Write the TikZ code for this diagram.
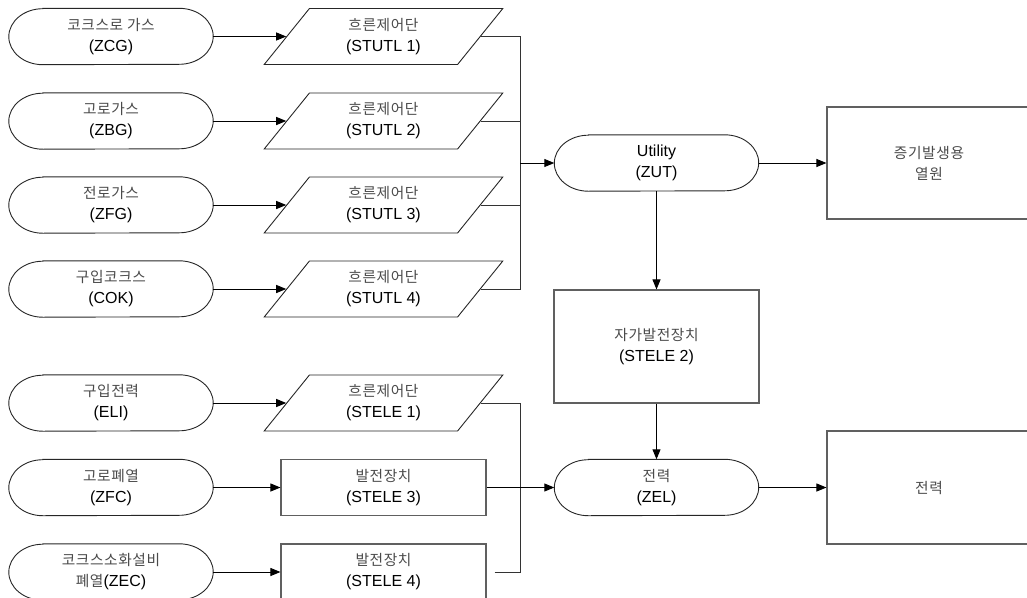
\documentclass[tikz,border=0pt]{standalone}
\usepackage{fontspec}
\setmainfont{Liberation Sans}
\newfontfamily\krfont{Noto Sans CJK KR}[Scale=0.92,LetterSpace=4]
\usetikzlibrary{arrows.meta,shapes.geometric,calc}
\definecolor{krgray}{HTML}{4A4A4A}
\definecolor{edgegray}{HTML}{606060}
\newcommand\K[1]{{\krfont\color{krgray}#1}}
\newcommand\termdraw[1]{\draw[shapeline] ($(#1.north west)+(34,0)$) -- ($(#1.north east)+(-34,0)$) arc[start angle=90,end angle=-90,x radius=34pt,y radius=28pt] -- ($(#1.south west)+(34,0)$) arc[start angle=270,end angle=90,x radius=34pt,y radius=28pt] -- cycle;}
\begin{document}
\begin{tikzpicture}[x=1pt,y=-1pt,font=\fontsize{16}{21}\selectfont,
  shapeline/.style={line width=0.9pt,draw=black!85},
  term/.style={rectangle,minimum width=204pt,minimum height=56pt,inner sep=0pt,align=center},
  para/.style={trapezium,trapezium left angle=58,trapezium right angle=122,trapezium stretches=true,
    minimum width=239pt,minimum height=56pt,inner sep=0pt,align=center,shapeline},
  boxnode/.style={rectangle,draw=edgegray,line width=1.1pt,minimum width=205pt,inner sep=0pt,align=center},
  arr/.style={-{Triangle[length=10pt,width=8pt]},line width=0.9pt,draw=black},
  link/.style={line width=0.9pt,draw=black!80}]
\useasboundingbox (0,0) rectangle (1027,597);
\clip (0,0) rectangle (1027,597);
% left terminators
\node[term] (t1) at (111,36.5) {\K{코크스로 가스}\\(ZCG)};
\node[term] (t2) at (111,121) {\K{고로가스}\\(ZBG)};
\node[term] (t3) at (111,205) {\K{전로가스}\\(ZFG)};
\node[term] (t4) at (111,289) {\K{구입코크스}\\(COK)};
\node[term] (t5) at (111,403) {\K{구입전력}\\(ELI)};
\node[term] (t6) at (111,487.5) {\K{고로폐열}\\(ZFC)};
\node[term] (t7) at (111,572) {\K{코크스소화설비}\\\K{폐열}(ZEC)};
\foreach \n in {t1,t2,t3,t4,t5,t6,t7} {\termdraw{\n}}
% flow control units
\node[para] (p1) at (383.5,36.5) {\K{흐른제어단}\\(STUTL 1)};
\node[para] (p2) at (383.5,121) {\K{흐른제어단}\\(STUTL 2)};
\node[para] (p3) at (383.5,205) {\K{흐른제어단}\\(STUTL 3)};
\node[para] (p4) at (383.5,289) {\K{흐른제어단}\\(STUTL 4)};
\node[para] (p5) at (383.5,403) {\K{흐른제어단}\\(STELE 1)};
\node[boxnode,minimum height=56pt] (r3) at (383.5,487.5) {\K{발전장치}\\(STELE 3)};
\node[boxnode,minimum height=56pt] (r4) at (383.5,572) {\K{발전장치}\\(STELE 4)};
% middle column
\node[term] (ut) at (656.5,163) {Utility\\(ZUT)};
\termdraw{ut}
\node[boxnode,minimum height=113pt] (s2) at (656.5,346.5) {\K{자가발전장치}\\(STELE 2)};
\node[term] (zel) at (656.5,487.5) {\K{전력}\\(ZEL)};
\termdraw{zel}
% right boxes
\node[boxnode,minimum width=204pt,minimum height=112pt] (heat) at (929,163) {\K{증기발생용}\\\K{열원}};
\node[boxnode,minimum width=204pt,minimum height=113pt] (pow) at (929,487.5) {\K{전력}};
% arrows from sources
\draw[arr] (t1.east) -- (p1.left side);
\draw[arr] (t2.east) -- (p2.left side);
\draw[arr] (t3.east) -- (p3.left side);
\draw[arr] (t4.east) -- (p4.left side);
\draw[arr] (t5.east) -- (p5.left side);
\draw[arr] (t6.east) -- (r3.west);
\draw[arr] (t7.east) -- (r4.west);
% upper bus
\coordinate (jt) at (520,163);
\draw[link] (p1.right side) -| (jt);
\draw[link] (p4.right side) -| (jt);
\draw[link] (p2.right side) -- (p2.right side -| jt);
\draw[link] (p3.right side) -- (p3.right side -| jt);
\draw[arr] (jt) -- (ut.west);
% lower bus
\coordinate (jb) at (520,487.5);
\draw[link] (p5.right side) -| (jb);
\draw[link] ($(r4.east)+(8,0)$) -| (jb);
\draw[arr] (r3.east) -- (zel.west);
% middle and right
\draw[arr] (ut.east) -- (heat.west);
\draw[arr] (ut.south) -- (s2.north);
\draw[arr] (s2.south) -- (zel.north);
\draw[arr] (zel.east) -- (pow.west);
\end{tikzpicture}
\end{document}
